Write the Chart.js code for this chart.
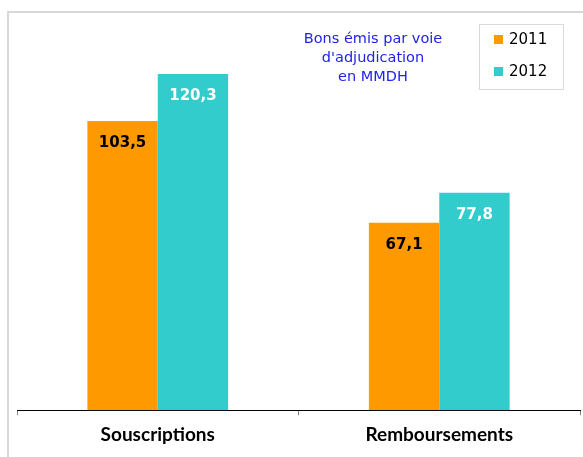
<!DOCTYPE html>
<html>
<head>
<meta charset="utf-8">
<script src="https://cdn.jsdelivr.net/npm/chart.js@4"></script>
<style>
  html, body { margin: 0; padding: 0; background: #fff; overflow: hidden; }
  #wrap { position: relative; width: 583px; height: 457px; }
  #frame { position: absolute; left: 7px; top: 11px; width: 600px; height: 470px; border: 2px solid #d9d9d9; box-sizing: border-box; }
  canvas { position: absolute; left: 0; top: 0; }
</style>
</head>
<body>
<div id="wrap">
  <div id="frame"></div>
  <canvas id="c" width="583" height="457"></canvas>
</div>
<script>
// données du graphique (en MMDH)
const categories = ['Souscriptions', 'Remboursements'];
const years = ['2011', '2012'];
const values2011 = [103.5, 67.1];
const values2012 = [120.3, 77.8];
const titleLines = ['Bons émis par voie', "d'adjudication", 'en MMDH'];

const colors = ['#FF9900', '#33CCCC'];
const labelColors = ['#000000', '#ffffff'];

// étiquettes de valeur à l'intérieur des barres
const valueLabels = {
  id: 'valueLabels',
  afterDatasetsDraw(chart) {
    const ctx = chart.ctx;
    ctx.save();
    ctx.font = 'bold 15px "DejaVu Sans"';
    ctx.textAlign = 'center';
    ctx.textBaseline = 'middle';
    chart.data.datasets.forEach((ds, i) => {
      const meta = chart.getDatasetMeta(i);
      meta.data.forEach((bar, j) => {
        ctx.fillStyle = labelColors[i];
        ctx.fillText(ds.data[j].toFixed(1).replace('.', ','), bar.x, bar.y + 22);
      });
    });
    ctx.restore();
  }
};

// titre + légende encadrée en haut à droite
const boxLegend = {
  id: 'boxLegend',
  afterDraw(chart) {
    const ctx = chart.ctx;
    ctx.save();
    ctx.fillStyle = '#2222ee';
    ctx.font = '14.5px "DejaVu Sans"';
    ctx.textAlign = 'center';
    ctx.textBaseline = 'middle';
    titleLines.forEach((t, i) => ctx.fillText(t, 373, 39 + i * 19));

    ctx.strokeStyle = '#d9d9d9';
    ctx.lineWidth = 1;
    ctx.strokeRect(479.5, 24.5, 84, 65);
    ctx.font = '15px "DejaVu Sans"';
    ctx.textAlign = 'left';
    chart.data.datasets.forEach((ds, i) => {
      const y = 40 + i * 32;
      ctx.fillStyle = ds.backgroundColor;
      ctx.fillRect(494, y - 5, 9, 9);
      ctx.fillStyle = '#000';
      ctx.fillText(ds.label, 509, y);
    });
    ctx.restore();
  }
};

new Chart(document.getElementById('c'), {
  type: 'bar',
  data: {
    labels: categories,
    datasets: [
      { label: years[0], data: values2011, backgroundColor: colors[0] },
      { label: years[1], data: values2012, backgroundColor: colors[1] }
    ]
  },
  options: {
    responsive: false,
    animation: false,
    events: [],
    layout: { padding: { left: 17, right: 3, top: 19, bottom: 3 } },
    datasets: { bar: { categoryPercentage: 0.5, barPercentage: 1 } },
    scales: {
      y: { display: false, min: 0, max: 140 },
      x: {
        border: { display: true, color: '#000', width: 1 },
        grid: { display: true, offset: true, drawOnChartArea: false, drawTicks: true, tickLength: 5, color: '#888' },
        ticks: { color: '#000', font: { family: 'Lato', weight: 'bold', size: 19 }, padding: 8 }
      }
    },
    plugins: {
      legend: { display: false },
      tooltip: { enabled: false }
    }
  },
  plugins: [valueLabels, boxLegend]
});
</script>
</body>
</html>
